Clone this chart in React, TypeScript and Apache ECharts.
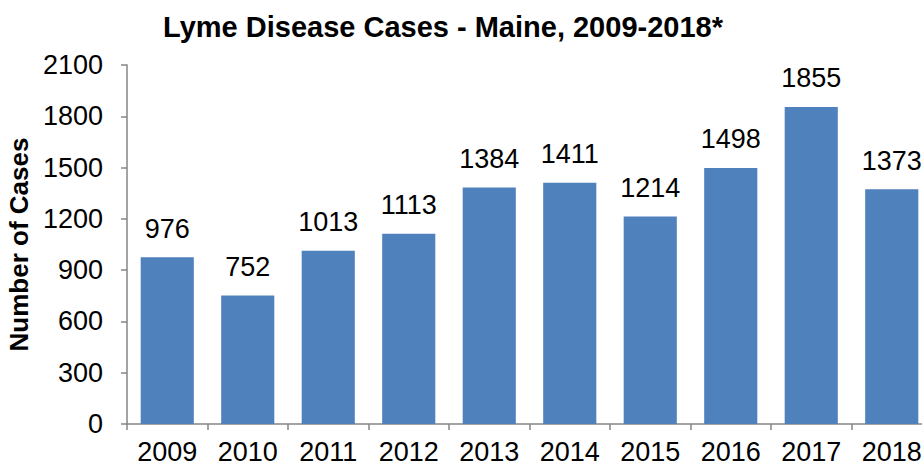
import React, { useEffect, useRef } from "react";
import * as echarts from "echarts";

const categories = ["2009", "2010", "2011", "2012", "2013", "2014", "2015", "2016", "2017", "2018"];
const cases = [976, 752, 1013, 1113, 1384, 1411, 1214, 1498, 1855, 1373];

export default function App() {
  const ref = useRef<HTMLDivElement>(null);
  useEffect(() => {
    if (!ref.current) return;
    const chart = echarts.init(ref.current, undefined, { renderer: "svg" });
    chart.setOption({
      animation: false,
      textStyle: { fontFamily: "Liberation Sans, Arial, sans-serif" },
      title: {
        text: "Lyme Disease Cases - Maine, 2009-2018*",
        left: 438,
        textAlign: "center",
        top: 7,
        textStyle: { fontSize: 29, fontWeight: "bold", color: "#000", fontFamily: "Liberation Sans, Arial, sans-serif" },
      },
      grid: { left: 127, right: -10, top: 65, bottom: 44, containLabel: false, outerBoundsMode: "none" },
      xAxis: {
        type: "category",
        data: categories,
        axisLine: { lineStyle: { color: "#868686", width: 1.5 } },
        axisTick: { show: true, length: 6, lineStyle: { color: "#868686", width: 1.5 } },
        axisLabel: { color: "#000", fontSize: 27, margin: 14 },
      },
      yAxis: {
        type: "value",
        min: 0,
        max: 2100,
        interval: 300,
        name: "Number of Cases",
        nameLocation: "middle",
        nameGap: 94,
        nameTextStyle: { fontSize: 26, fontWeight: "bold", color: "#000" },
        splitLine: { show: false },
        axisLine: { show: true, lineStyle: { color: "#868686", width: 1.5 } },
        axisTick: { show: true, length: 6, lineStyle: { color: "#868686", width: 1.5 } },
        axisLabel: { color: "#000", fontSize: 27, margin: 24, formatter: (v: number) => String(v) },
      },
      series: [
        {
          type: "bar",
          data: cases,
          barWidth: "66%",
          itemStyle: { color: "#4F81BD" },
          label: { show: true, position: "top", distance: 15, fontSize: 27, color: "#000" },
        },
      ],
    });
    return () => chart.dispose();
  }, []);
  return <div ref={ref} style={{ width: 922, height: 468, position: "absolute", left: 0, top: 0 }} />;
}
